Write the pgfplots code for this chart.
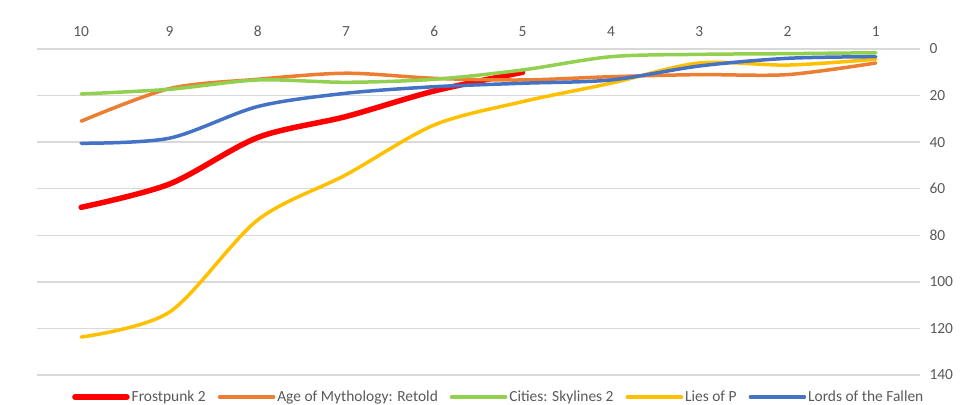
\documentclass[border=0pt]{standalone}
\usepackage{fontspec}
\setmainfont{Carlito}
\usepackage{pgfplots}
\pgfplotsset{compat=1.18}
\definecolor{cRed}{HTML}{FF0000}
\definecolor{cOrange}{HTML}{ED7D31}
\definecolor{cGreen}{HTML}{92D050}
\definecolor{cYellow}{HTML}{FFC000}
\definecolor{cBlue}{HTML}{4472C4}
\definecolor{cGrid}{HTML}{D9D9D9}
\definecolor{cText}{HTML}{595959}
\begin{document}
\begin{tikzpicture}
\path[use as bounding box] (-37bp,-30bp) rectangle (928bp,375bp);
\begin{axis}[
  at={(0,0)}, anchor=south west,
  scale only axis, width=883bp, height=326bp,
  x dir=reverse, y dir=reverse,
  xmin=0.5, xmax=10.5, ymin=0, ymax=140,
  xtick={1,...,10}, ytick={0,20,...,140},
  xticklabel pos=top, yticklabel pos=right,
  axis line style={draw=none}, major tick length=0pt,
  ymajorgrids, grid style={cGrid, line width=1.4bp},
  tick label style={font=\fontsize{15.5}{18}\selectfont, text=cText},
  /pgf/number format/assume math mode=true,
  xticklabel style={yshift=9bp},
  yticklabel style={xshift=6bp},
  legend style={at={(0.523,-0.0675)}, anchor=center, draw=none, fill=none,
    legend columns=5, font=\fontsize{15.5}{18}\selectfont, text=cText,
    /tikz/every even column/.append style={column sep=10bp},
    nodes={inner xsep=2bp}},
  legend cell align=left,
  every axis plot/.append style={smooth, tension=0.5, line cap=round},
]
\addplot[cRed, line width=5.5bp, legend image code/.code={\draw[cRed, line width=5.5bp, line cap=round] (0bp,0bp) -- (52bp,0bp);}] coordinates {(10,68) (9,58) (8,38) (7,29) (6,18) (5,10)};
\addlegendentry{Frostpunk 2}
\addplot[cOrange, line width=3.5bp, legend image code/.code={\draw[cOrange, line width=3.5bp] (0bp,0bp) -- (54bp,0bp);}] coordinates {(10,31) (9,17) (8,13) (7,10.4) (6,12.6) (5,13.3) (4,11.9) (3,11) (2,11) (1,6)};
\addlegendentry{Age of Mythology: Retold}
\addplot[cGreen, line width=3.5bp, legend image code/.code={\draw[cGreen, line width=3.5bp] (0bp,0bp) -- (54bp,0bp);}] coordinates {(10,19.3) (9,17.3) (8,13.3) (7,14.3) (6,13) (5,9) (4,3.3) (3,2.3) (2,2) (1,1.6)};
\addlegendentry{Cities: Skylines 2}
\addplot[cYellow, line width=3.5bp, legend image code/.code={\draw[cYellow, line width=3.5bp] (0bp,0bp) -- (54bp,0bp);}] coordinates {(10,123.7) (9,113) (8,73.4) (7,54) (6,32.6) (5,22.6) (4,14.7) (3,6) (2,6.9) (1,4.4)};
\addlegendentry{Lies of P}
\addplot[cBlue, line width=3.5bp, legend image code/.code={\draw[cBlue, line width=3.5bp] (0bp,0bp) -- (54bp,0bp);}] coordinates {(10,40.5) (9,38.3) (8,24.7) (7,19) (6,16.2) (5,14.7) (4,13.3) (3,7.3) (2,4) (1,3.3)};
\addlegendentry{Lords of the Fallen}
\end{axis}
\end{tikzpicture}
\end{document}
